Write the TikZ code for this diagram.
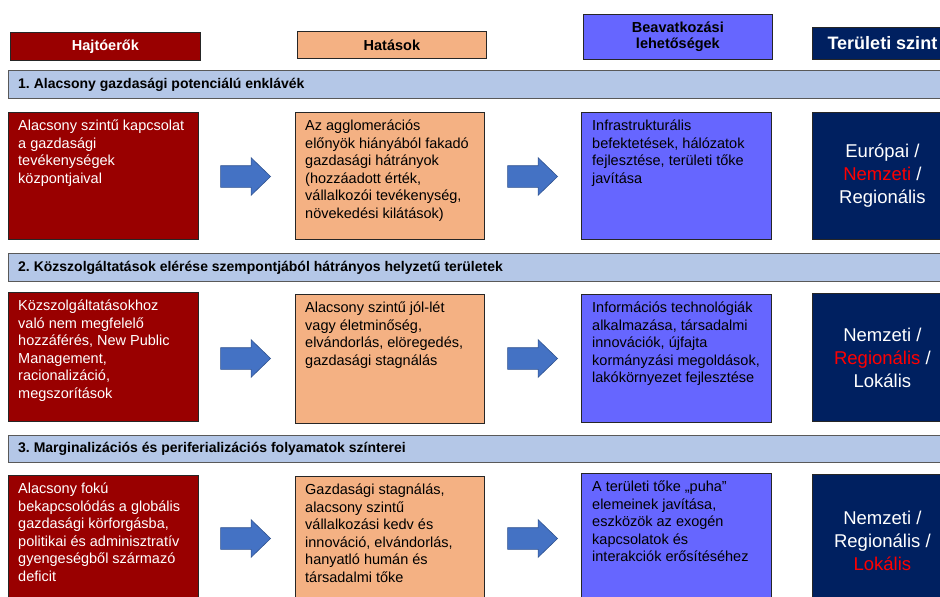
\documentclass[tikz,border=0pt]{standalone}
\usepackage{fontspec}
\setmainfont{Liberation Sans}
\frenchspacing
\usetikzlibrary{shapes.arrows}
\definecolor{drv}{HTML}{990000}
\definecolor{imp}{HTML}{F4B183}
\definecolor{itv}{HTML}{6666FF}
\definecolor{lvl}{HTML}{002060}
\definecolor{barc}{HTML}{B4C7E7}
\definecolor{arr}{HTML}{4472C4}
\definecolor{arrb}{HTML}{2F528F}
\definecolor{redt}{HTML}{FF0000}
\tikzset{
  box/.style={rectangle, draw=black!85, line width=0.8pt, inner sep=0pt, anchor=north west},
  drvbox/.style={box, fill=drv, minimum width=190, minimum height=128},
  impbox/.style={box, fill=imp, minimum width=189, minimum height=128},
  itvbox/.style={box, fill=itv, minimum width=190, minimum height=128},
  lvlbox/.style={box, fill=lvl, minimum width=140, minimum height=128, text=white, align=center,
    font=\fontsize{18.5}{23}\selectfont},
  hdr/.style={box, align=center, font=\fontsize{14.5}{16.5}\selectfont\bfseries},
  secbar/.style={rectangle, draw=black!65, line width=1.2pt, fill=barc, inner sep=0pt,
    anchor=north west, minimum width=950, minimum height=28},
  sectxt/.style={inner sep=0pt, anchor=west, font=\fontsize{14}{16}\selectfont\bfseries},
  txt/.style={inner sep=0pt, anchor=north west, align=left, font=\fontsize{14.5}{17.6}\selectfont},
  blk/.style={single arrow, fill=arr, draw=arrb, line width=0.6pt, minimum height=50,
    minimum width=37, single arrow head extend=8pt, single arrow tip angle=88,
    inner xsep=0pt, inner ysep=10.5pt, anchor=tip}
}
\newcommand{\rd}[1]{\textcolor{redt}{#1}}
\begin{document}
\begin{tikzpicture}[x=1pt,y=-1pt]
\useasboundingbox (0,0) rectangle (940,597);
\clip (0,0) rectangle (940,597);
\fill[white] (0,0) rectangle (940,597);
% headers
\node[hdr, fill=drv, text=white, minimum width=190, minimum height=28] (h1) at (10,32) {Hajtóerők};
\node[hdr, fill=imp, minimum width=189, minimum height=27] (h2) at (297,31) {Hatások};
\node[hdr, fill=itv, minimum width=189, minimum height=45] (h3) at (583,14) {Beavatkozási\\lehetőségek};
\node[hdr, fill=lvl, text=white, minimum width=140, minimum height=32, font=\fontsize{18}{20}\selectfont\bfseries] (h4) at (812,27) {Területi szint};
% section bars
\node[secbar] (b1) at (8,70) {};
\node[sectxt] (b1t) at ([xshift=10pt]b1.west) {1. Alacsony gazdasági potenciálú enklávék};
\node[secbar] (b2) at (8,253) {};
\node[sectxt] (b2t) at ([xshift=10pt]b2.west) {2. Közszolgáltatások elérése szempontjából hátrányos helyzetű területek};
\node[secbar, minimum height=27] (b3) at (8,435) {};
\node[sectxt] (b3t) at ([xshift=10pt]b3.west) {3. Marginalizációs és periferializációs folyamatok színterei};
% row 1
\node[drvbox, minimum height=127] (d1) at (8,112) {};
\node[txt, text=white] (d1t) at ([xshift=10pt,yshift=-6pt]d1.north west) {\strut Alacsony szintű kapcsolat\\a gazdasági\\tevékenységek\\központjaival};
\node[impbox, minimum height=127] (i1) at (295,112) {};
\node[txt] (i1t) at ([xshift=10pt,yshift=-6pt]i1.north west) {\strut Az agglomerációs\\előnyök hiányából fakadó\\gazdasági hátrányok\\(hozzáadott érték,\\vállalkozói tevékenység,\\növekedési kilátások)};
\node[itvbox, minimum height=127] (v1) at (581,112) {};
\node[txt] (v1t) at ([xshift=11pt,yshift=-6pt]v1.north west) {\strut Infrastrukturális\\befektetések, hálózatok\\fejlesztése, területi tőke\\javítása};
\node[lvlbox, minimum height=127] (l1) at (812,112) {Európai /\\\rd{Nemzeti} /\\Regionális};
\node[blk] (a11) at (271,176.5) {};
\node[blk] (a12) at (558,176.5) {};
% row 2
\node[drvbox, minimum height=129] (d2) at (8,292) {};
\node[txt, text=white] (d2t) at ([xshift=10pt,yshift=-6pt]d2.north west) {\strut Közszolgáltatásokhoz\\való nem megfelelő\\hozzáférés, New Public\\Management,\\racionalizáció,\\megszorítások};
\node[impbox, minimum height=129] (i2) at (295,294) {};
\node[txt] (i2t) at ([xshift=10pt,yshift=-6pt]i2.north west) {\strut Alacsony szintű jól-lét\\vagy életminőség,\\elvándorlás, elöregedés,\\gazdasági stagnálás};
\node[itvbox, minimum height=128] (v2) at (581,294) {};
\node[txt] (v2t) at ([xshift=11pt,yshift=-6pt]v2.north west) {\strut Információs technológiák\\alkalmazása, társadalmi\\innovációk, újfajta\\kormányzási megoldások,\\lakókörnyezet fejlesztése};
\node[lvlbox] (l2) at (812,293) {Nemzeti /\\\rd{Regionális} /\\Lokális};
\node[blk] (a21) at (271,358.5) {};
\node[blk] (a22) at (558,358.5) {};
% row 3
\node[drvbox] (d3) at (8,475) {};
\node[txt, text=white] (d3t) at ([xshift=10pt,yshift=-6pt]d3.north west) {\strut Alacsony fokú\\bekapcsolódás a globális\\gazdasági körforgásba,\\politikai és adminisztratív\\gyengeségből származó\\deficit};
\node[impbox] (i3) at (295,476) {};
\node[txt] (i3t) at ([xshift=10pt,yshift=-6pt]i3.north west) {\strut Gazdasági stagnálás,\\alacsony szintű\\vállalkozási kedv és\\innováció, elvándorlás,\\hanyatló humán és\\társadalmi tőke};
\node[itvbox] (v3) at (581,473) {};
\node[txt] (v3t) at ([xshift=11pt,yshift=-6pt]v3.north west) {\strut A területi tőke „puha”\\elemeinek javítása,\\eszközök az exogén\\kapcsolatok és\\interakciók erősítéséhez};
\node[lvlbox, minimum height=132] (l3) at (812,474) {Nemzeti /\\Regionális /\\\rd{Lokális}};
\node[blk] (a31) at (271,538.5) {};
\node[blk] (a32) at (558,538.5) {};
\end{tikzpicture}
\end{document}
